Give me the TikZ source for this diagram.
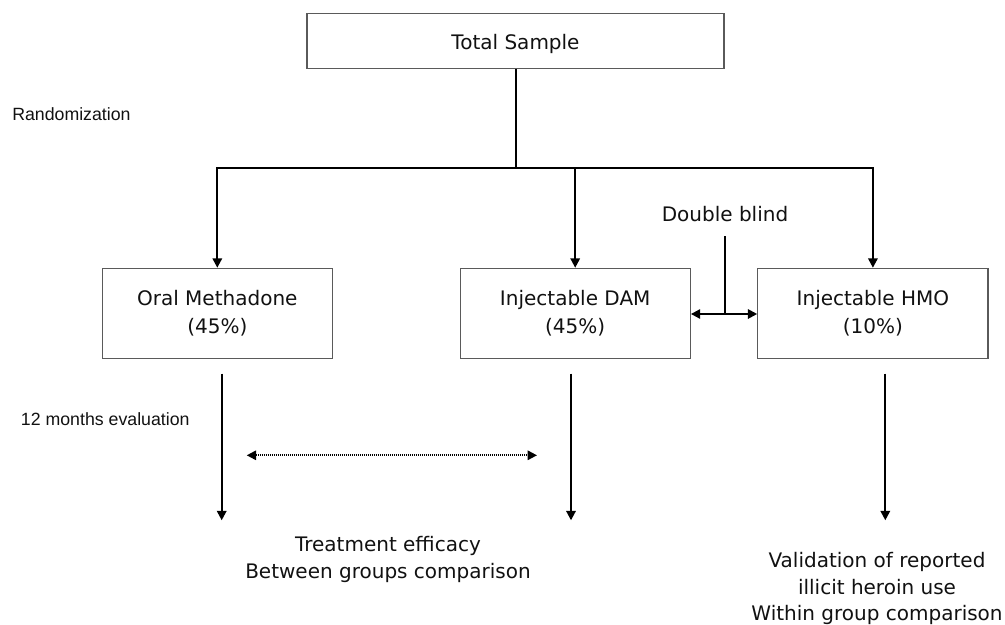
\documentclass[tikz,border=0pt]{standalone}
\usepackage{fontspec}
\setmainfont{DejaVu Sans}
\newfontfamily\arialfont{Liberation Sans}
\usetikzlibrary{arrows.meta}
\definecolor{boxgray}{HTML}{5A5A5A}
\definecolor{ink}{HTML}{111111}
\tikzset{
  mainfont/.style={font=\fontsize{15}{21}\selectfont},
  smallfont/.style={font=\arialfont\fontsize{13.3}{16}\selectfont},
  box/.style={draw=boxgray, line width=0.85pt, align=center, inner sep=0pt, text=ink, mainfont},
  conn/.style={draw=black, line width=1.5pt, line join=miter},
  tip/.style={-{Triangle[length=7pt,width=7pt]}},
  dtip/.style={{Triangle[length=7pt,width=7pt]}-{Triangle[length=7pt,width=7pt]}},
  dotarrow/.style={draw=black, line width=1.4pt, dash pattern=on 0.9pt off 0.6pt,
    {Triangle[length=7pt,width=7pt]}-{Triangle[length=7pt,width=7pt]}},
  lbl/.style={text=ink, inner sep=0pt},
}
\begin{document}
\begin{tikzpicture}[x=0.75pt,y=-0.75pt]
\useasboundingbox (0,0) rectangle (1005,624);
% boxes
\node[box, minimum width=312.75pt, minimum height=41.25pt] (top) at (515.5,40.8) {};
\node[lbl, mainfont, anchor=base] (toptxt) at (515.5,50) {Total Sample};
\node[box, minimum width=172.5pt, minimum height=67.8pt] (oral) at (217.3,313.5) {Oral Methadone\\(45\%)};
\node[box, minimum width=172.7pt, minimum height=67.8pt] (dam) at (575.2,313.5) {Injectable DAM\\(45\%)};
\node[box, minimum width=172.7pt, minimum height=67.8pt] (hmo) at (872.9,313.5) {Injectable HMO\\(10\%)};
% side labels
\node[lbl, smallfont, anchor=base west] (rand) at (12,121) {Randomization};
\node[lbl, smallfont, anchor=base west] (eval) at (20.7,425.3) {12 months evaluation};
\node[lbl, mainfont, anchor=base] (db) at (725,221.7) {Double blind};
% randomization tree
\coordinate (split) at (top.south |- 0,168.3);
\draw[conn] (top.south) -- (split);
\draw[conn, tip] (split) -| (oral.north);
\draw[conn, tip] (split) -| (dam.north);
\draw[conn, tip] (split) -| (hmo.north);
% double blind
\coordinate (dbtop) at (724.7,236);
\coordinate (dbj) at (724.7,314);
\draw[conn] (dbtop) -- (dbj);
\draw[conn, dtip] (dam.east |- dbj) -- (hmo.west |- dbj);
% evaluation arrows
\coordinate (e1s) at (221.7,373.7); \coordinate (e1e) at (221.7,520.3);
\coordinate (e2s) at (571,373.7);   \coordinate (e2e) at (571,520.3);
\coordinate (e3s) at (885.3,373.7); \coordinate (e3e) at (885.3,520.3);
\draw[conn, tip] (e1s) -- (e1e);
\draw[conn, tip] (e2s) -- (e2e);
\draw[conn, tip] (e3s) -- (e3e);
% comparison
\coordinate (cmpL) at (246.7,455.3);
\coordinate (cmpR) at (537,455.3);
\draw[dotarrow] (cmpL) -- (cmpR);
% outcomes (anchor=base is the baseline of the last line)
\node[lbl, font=\fontsize{15}{20.5}\selectfont, align=center, anchor=base] (eff) at (388,578.7) {Treatment efficacy\\Between groups comparison};
\node[lbl, font=\fontsize{15}{19.7}\selectfont, align=center, anchor=base] (val) at (877,620.3) {Validation of reported\\illicit heroin use\\Within group comparison};
\end{tikzpicture}
\end{document}
